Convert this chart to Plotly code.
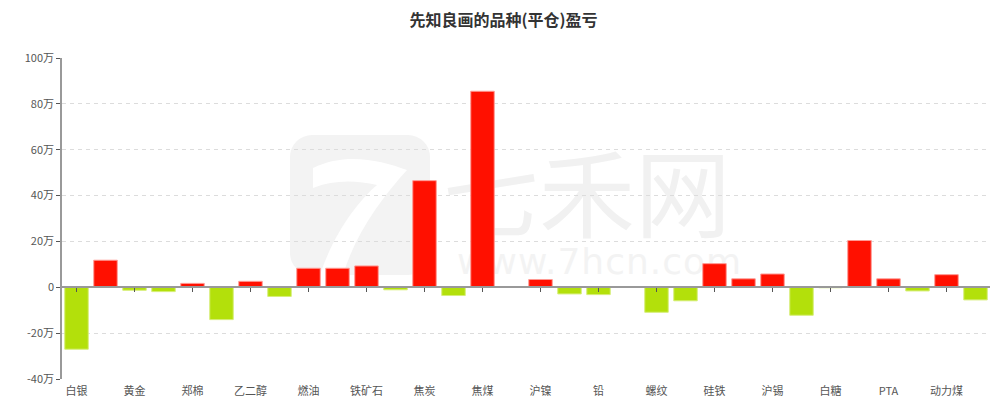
import base64
import plotly.graph_objects as go

categories = ["白银", "沪铜", "黄金", "沪铝", "郑棉", "沪锌", "乙二醇", "豆粕",
              "燃油", "甲醇", "铁矿石", "橡胶", "焦炭", "棕榈油", "焦煤", "豆油",
              "沪镍", "玻璃", "铅", "菜粕", "螺纹", "热卷", "硅铁", "锰硅",
              "沪锡", "苹果", "白糖", "沥青", "PTA", "玉米", "动力煤", "纯碱"]
values = [-27.0, 11.8, -1.3, -1.9, 1.7, -14.1, 2.6, -4.0,
          8.3, 8.3, 9.3, -1.1, 46.5, -3.6, 85.5, 0.3,
          3.4, -2.9, -3.2, 0.0, -10.9, -5.9, 10.3, 3.7,
          5.8, -12.2, -0.2, 20.4, 3.7, -1.6, 5.5, -5.5]
shown_labels = categories[::2]
y_ticks = [-40, -20, 0, 20, 40, 60, 80, 100]
y_ticktext = ["-40万", "-20万", "0", "20万", "40万", "60万", "80万", "100万"]

RED, GREEN = "#FF1000", "#B3E00B"
RED_EDGE, GREEN_EDGE = "#FF9A94", "#D6EE78"

colors = [RED if v >= 0 else GREEN for v in values]
edges = [RED_EDGE if v >= 0 else GREEN_EDGE for v in values]

font = "Noto Sans CJK SC"

svg = f'''<svg xmlns="http://www.w3.org/2000/svg" width="460" height="150" viewBox="0 0 460 150">
<rect x="5" y="5" width="140" height="140" rx="22" ry="22" fill="#f3f3f3"/>
<path d="M28 38 C60 22 95 30 122 40 C95 70 70 105 58 145 L35 145 C48 105 72 72 92 55 C70 50 48 50 28 58 Z" fill="#ffffff"/>
<text x="158" y="100" font-family="{font}" font-size="96" fill="#f1f1f1">七禾网</text>
<text x="172" y="144" font-family="DejaVu Sans" font-size="36" letter-spacing="1" fill="#f3f3f3">www.7hcn.com</text>
</svg>'''
svg_uri = "data:image/svg+xml;base64," + base64.b64encode(svg.encode("utf-8")).decode()

fig = go.Figure()
fig.add_trace(go.Bar(
    x=categories, y=values,
    marker=dict(color=colors, line=dict(color=edges, width=1)),
    hovertemplate="%{x}: %{y}万<extra></extra>",
))
# helper trace for the zero-line axis
fig.add_trace(go.Scatter(
    x=categories, y=[0] * len(categories), xaxis="x2", mode="markers",
    marker=dict(opacity=0), hoverinfo="skip", showlegend=False,
))

y_min, y_max = -40, 100
zero_frac = (0 - y_min) / (y_max - y_min)

fig.update_layout(
    width=991, height=390,
    margin=dict(l=54, r=9, t=50, b=19),
    paper_bgcolor="white", plot_bgcolor="white",
    showlegend=False,
    bargap=0.19,
    title=dict(text="<b>先知良画的品种(平仓)盈亏</b>", x=0.5, xanchor="center",
               y=1 - 12 / 390, yanchor="middle", automargin=False,
               font=dict(family=font, size=16, color="#333")),
    font=dict(family=font, size=11, color="#555"),
    xaxis=dict(
        type="category", categoryorder="array", categoryarray=categories,
        range=[-0.5, len(categories) - 0.5], automargin=False,
        tickvals=shown_labels, ticks="", showline=False, showgrid=False,
        zeroline=False, tickfont=dict(size=11, color="#555"),
        ticklabelstandoff=4,
    ),
    xaxis2=dict(
        type="category", categoryorder="array", categoryarray=categories,
        range=[-0.5, len(categories) - 0.5], overlaying="x",
        anchor="free", position=zero_frac, side="bottom", automargin=False,
        tickvals=shown_labels, showticklabels=False,
        ticks="outside", ticklen=4, tickcolor="#555", tickwidth=1,
        showline=True, linecolor="#999", linewidth=1.5, showgrid=False,
        zeroline=False,
    ),
    yaxis=dict(
        range=[y_min, y_max], tickvals=y_ticks, ticktext=y_ticktext,
        automargin=False,
        showgrid=True, gridcolor="#dcdcdc", griddash="4px,4px", gridwidth=1,
        zeroline=False, showline=True, linecolor="#999", linewidth=1.5,
        ticks="outside", ticklen=4, tickcolor="#555",
        tickfont=dict(size=11, color="#555"),
    ),
    images=[dict(source=svg_uri, xref="paper", yref="paper",
                 x=(285 - 62) / 928, y=(379 - 130) / 321,
                 sizex=460 / 928, sizey=150 / 321,
                 xanchor="left", yanchor="top", sizing="stretch",
                 layer="below")],
)

fig.write_html("out.html")
